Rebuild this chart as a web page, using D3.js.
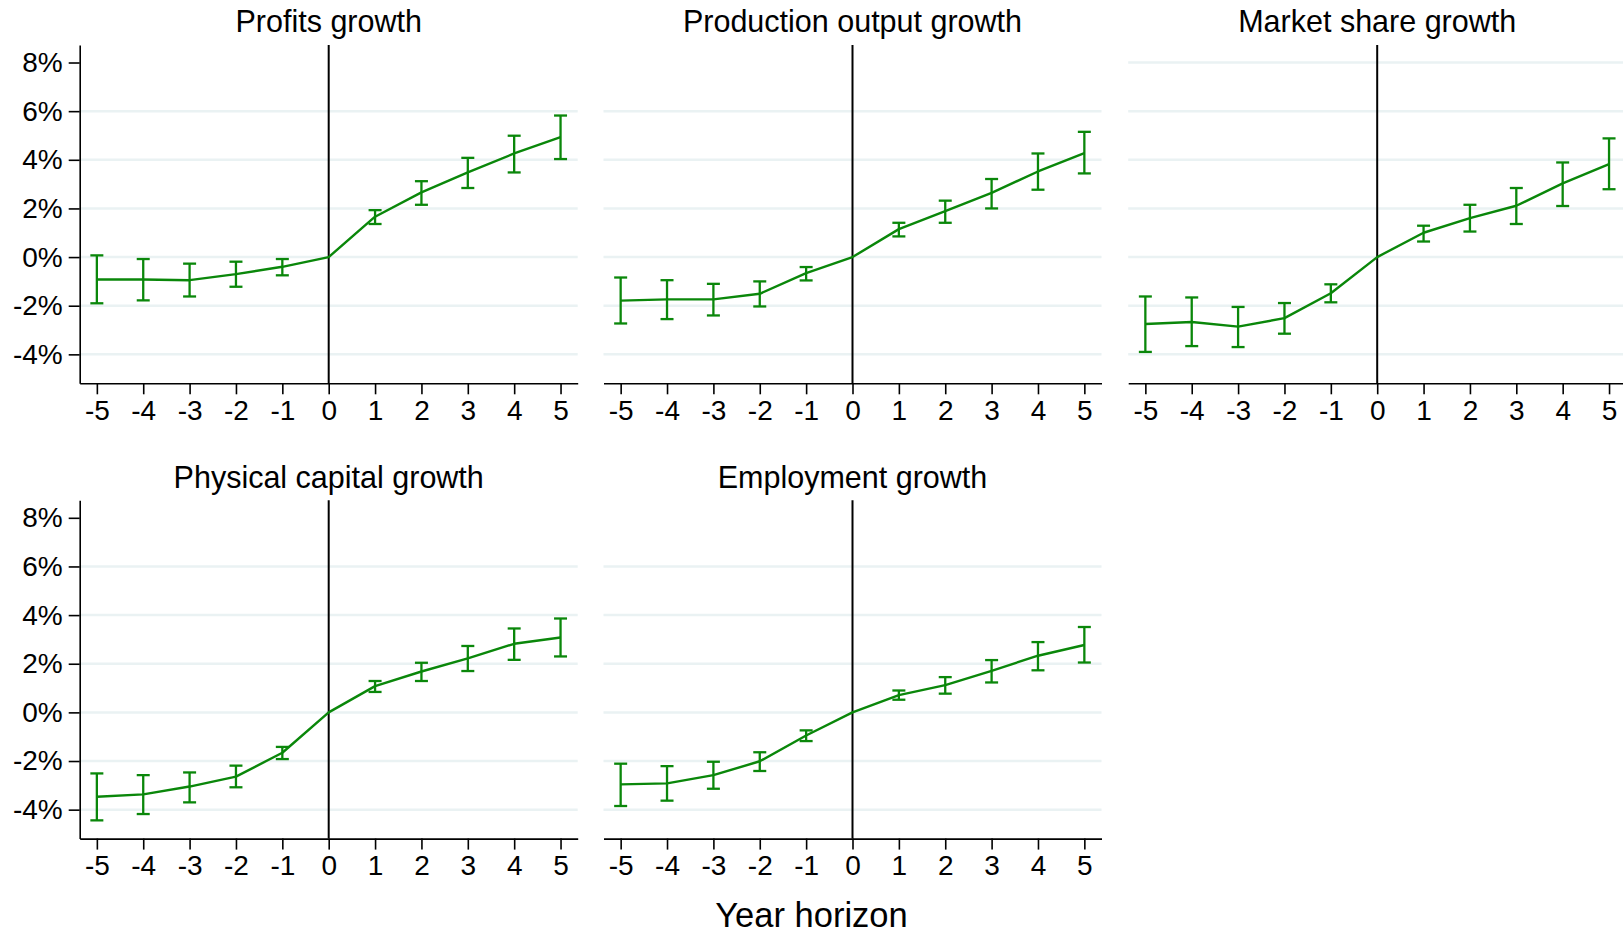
<!DOCTYPE html>
<html>
<head>
<meta charset="utf-8">
<script src="https://cdn.jsdelivr.net/npm/d3@7"></script>
<style>
  html, body { margin: 0; padding: 0; background: #fff; }
  svg { display: block; }
  text { font-family: "Liberation Sans", Arial, Helvetica, sans-serif; fill: #000; }
</style>
</head>
<body>
<svg id="chart" width="1623" height="934"></svg>
<script>
// Event-study estimates (percent) by year horizon, with 95% confidence bounds.
const years = [-5, -4, -3, -2, -1, 0, 1, 2, 3, 4, 5];
const yTicks = [8, 6, 4, 2, 0, -2, -4];

const panelTitles = [
  "Profits growth",
  "Production output growth",
  "Market share growth",
  "Physical capital growth",
  "Employment growth"
];

const profitsEst = [-0.92, -0.92, -0.95, -0.70, -0.40, 0, 1.66, 2.66, 3.48, 4.26, 4.93];
const profitsLo  = [-1.90, -1.78, -1.62, -1.22, -0.75, null, 1.36, 2.15, 2.84, 3.48, 4.03];
const profitsHi  = [0.07, -0.08, -0.27, -0.19, -0.08, null, 1.93, 3.12, 4.08, 4.99, 5.82];

const outputEst = [-1.79, -1.74, -1.74, -1.51, -0.66, 0, 1.15, 1.89, 2.64, 3.52, 4.27];
const outputLo  = [-2.73, -2.55, -2.40, -2.03, -0.96, null, 0.85, 1.41, 2.00, 2.77, 3.44];
const outputHi  = [-0.84, -0.95, -1.10, -1.00, -0.41, null, 1.41, 2.32, 3.21, 4.26, 5.15];

const shareEst = [-2.75, -2.67, -2.86, -2.51, -1.49, 0, 1.00, 1.60, 2.11, 3.03, 3.82];
const shareLo  = [-3.90, -3.66, -3.70, -3.15, -1.86, null, 0.64, 1.05, 1.36, 2.10, 2.79];
const shareHi  = [-1.62, -1.66, -2.05, -1.89, -1.12, null, 1.29, 2.15, 2.84, 3.89, 4.88];

const capitalEst = [-3.47, -3.37, -3.05, -2.64, -1.66, 0, 1.08, 1.68, 2.22, 2.82, 3.08];
const capitalLo  = [-4.44, -4.18, -3.70, -3.08, -1.92, null, 0.84, 1.29, 1.70, 2.16, 2.30];
const capitalHi  = [-2.51, -2.58, -2.47, -2.19, -1.42, null, 1.29, 2.04, 2.73, 3.45, 3.86];

const employEst = [-2.96, -2.92, -2.58, -2.01, -0.95, 0, 0.71, 1.12, 1.71, 2.33, 2.77];
const employLo  = [-3.85, -3.63, -3.14, -2.41, -1.18, null, 0.52, 0.77, 1.23, 1.73, 2.05];
const employHi  = [-2.11, -2.21, -2.03, -1.64, -0.74, null, 0.90, 1.45, 2.15, 2.89, 3.51];

const xLabel = "Year horizon";

// Panel layout: grid position, whether the y axis is shown, whether the top gridline is drawn
const panels = [
  { title: panelTitles[0], est: profitsEst, lo: profitsLo, hi: profitsHi, row: 0, col: 0, yAxis: true,  topGrid: false },
  { title: panelTitles[1], est: outputEst,  lo: outputLo,  hi: outputHi,  row: 0, col: 1, yAxis: false, topGrid: false },
  { title: panelTitles[2], est: shareEst,   lo: shareLo,   hi: shareHi,   row: 0, col: 2, yAxis: false, topGrid: true  },
  { title: panelTitles[3], est: capitalEst, lo: capitalLo, hi: capitalHi, row: 1, col: 0, yAxis: true,  topGrid: false },
  { title: panelTitles[4], est: employEst,  lo: employLo,  hi: employHi,  row: 1, col: 1, yAxis: false, topGrid: false }
];

const colLeft = [79.7, 603.5, 1128.2];
const rowTop = [45, 500.3];
const plotW = 498;
const plotH = 338.3;

const green = "#0a870a";
const gridColor = "#eaf2f3";
const fontTick = 28;
const fontTitle = 30.5;
const fontXLabel = 34.5;

const svg = d3.select("#chart");
svg.append("rect").attr("width", 1623).attr("height", 934).attr("fill", "#fff");

const x = d3.scaleLinear().domain([-5.37, 5.37]).range([0, plotW]);
const y = d3.scaleLinear().domain([-5.19, 8.72]).range([plotH, 0]);

panels.forEach(p => {
  const g = svg.append("g")
    .attr("transform", `translate(${colLeft[p.col]},${rowTop[p.row]})`);

  // horizontal gridlines
  g.selectAll("line.grid")
    .data(yTicks.filter(t => p.topGrid || t !== 8))
    .join("line")
    .attr("class", "grid")
    .attr("x1", 0).attr("x2", plotW)
    .attr("y1", d => y(d)).attr("y2", d => y(d))
    .attr("stroke", gridColor)
    .attr("stroke-width", 2.5);

  // reference line at horizon 0
  g.append("line")
    .attr("x1", x(0)).attr("x2", x(0))
    .attr("y1", 0).attr("y2", plotH)
    .attr("stroke", "#000")
    .attr("stroke-width", 2);

  // x axis
  const xAxis = d3.axisBottom(x)
    .tickValues(years)
    .tickFormat(d3.format("d"))
    .tickSize(11)
    .tickPadding(6)
    .tickSizeOuter(0);
  const xg = g.append("g").attr("transform", `translate(0,${plotH})`).call(xAxis);
  xg.select(".domain").attr("stroke", "#000").attr("stroke-width", 1.6);
  xg.selectAll(".tick line").attr("stroke", "#000").attr("stroke-width", 1.6);
  xg.selectAll(".tick text")
    .attr("font-size", fontTick)
    .attr("font-family", "'Liberation Sans', Arial, Helvetica, sans-serif")
    .attr("fill", "#000")
    .attr("dy", "0.71em")
    .text(d => d < 0 ? "-" + Math.abs(d) : String(d));

  // y axis (leftmost panels only)
  if (p.yAxis) {
    const yAxis = d3.axisLeft(y)
      .tickValues(yTicks)
      .tickFormat(d => (d < 0 ? "-" + Math.abs(d) : d) + "%")
      .tickSize(11)
      .tickPadding(6)
      .tickSizeOuter(0);
    const yg = g.append("g").call(yAxis);
    yg.select(".domain").attr("stroke", "#000").attr("stroke-width", 1.6);
    yg.selectAll(".tick line").attr("stroke", "#000").attr("stroke-width", 1.6);
    yg.selectAll(".tick text")
      .attr("font-size", fontTick)
      .attr("font-family", "'Liberation Sans', Arial, Helvetica, sans-serif")
      .attr("fill", "#000");
  }

  const pts = years.map((yr, i) => ({ yr, est: p.est[i], lo: p.lo[i], hi: p.hi[i] }));
  const bars = pts.filter(d => d.lo !== null && d.hi !== null);
  const cap = 6.5;

  // confidence intervals with caps
  const eb = g.selectAll("g.eb").data(bars).join("g").attr("class", "eb")
    .attr("stroke", green).attr("stroke-width", 2.3).attr("fill", "none");
  eb.append("line")
    .attr("x1", d => x(d.yr)).attr("x2", d => x(d.yr))
    .attr("y1", d => y(d.lo)).attr("y2", d => y(d.hi));
  eb.append("line")
    .attr("x1", d => x(d.yr) - cap).attr("x2", d => x(d.yr) + cap)
    .attr("y1", d => y(d.lo)).attr("y2", d => y(d.lo));
  eb.append("line")
    .attr("x1", d => x(d.yr) - cap).attr("x2", d => x(d.yr) + cap)
    .attr("y1", d => y(d.hi)).attr("y2", d => y(d.hi));

  // point estimates
  g.append("path")
    .datum(pts)
    .attr("fill", "none")
    .attr("stroke", green)
    .attr("stroke-width", 2.4)
    .attr("stroke-linejoin", "round")
    .attr("d", d3.line().x(d => x(d.yr)).y(d => y(d.est)));

  // panel title
  g.append("text")
    .attr("x", x(0))
    .attr("y", -12.7)
    .attr("text-anchor", "middle")
    .attr("font-size", fontTitle)
    .text(p.title);
});

svg.append("text")
  .attr("x", 811.5)
  .attr("y", 926.5)
  .attr("text-anchor", "middle")
  .attr("font-size", fontXLabel)
  .text(xLabel);
</script>
</body>
</html>
